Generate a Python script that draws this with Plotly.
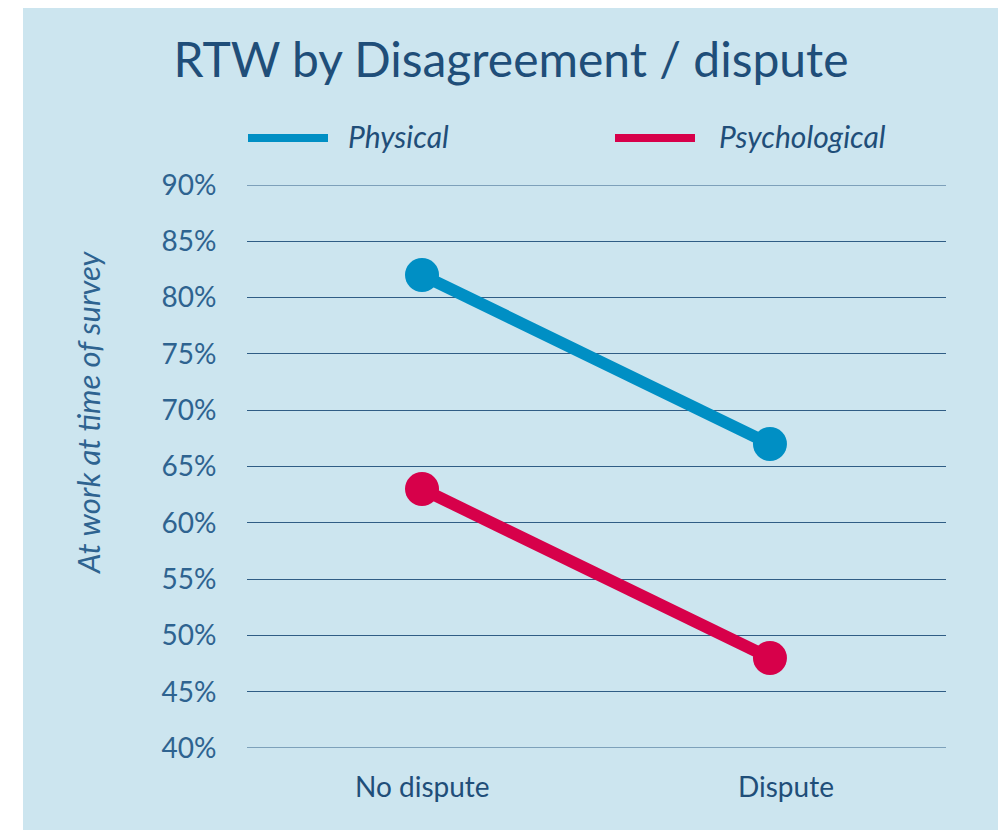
import plotly.graph_objects as go

categories = ["No dispute", "Dispute"]
physical = [0.82, 0.67]
psychological = [0.63, 0.48]
series_names = ["Physical", "Psychological"]
series_colors = ["#008fc4", "#d7004a"]
y_ticks = [0.40, 0.45, 0.50, 0.55, 0.60, 0.65, 0.70, 0.75, 0.80, 0.85, 0.90]

FONT = "Lato"
DARK = "#1f4e79"
TICK = "#2e6390"
GRID = "#2f5d85"

# page body has an 8px margin; work in page pixels and shift
OFF = 8
W, H = 1006 - OFF, 830 - OFF
L, R, T, B = 247 - OFF, 946 - OFF, 185 - OFF, 748 - OFF
PW, PH = R - L, B - T

def px(x):
    return (x - OFF - L) / PW

def py(y):
    return (B - (y - OFF)) / PH

fig = go.Figure()
for name, vals, col in zip(series_names, [physical, psychological], series_colors):
    fig.add_trace(go.Scatter(
        x=categories, y=vals, name=name, mode="lines+markers",
        line=dict(color=col, width=12),
        marker=dict(color=col, size=34),
        showlegend=False,
    ))

shapes = [dict(type="rect", xref="paper", yref="paper",
               x0=px(23), x1=px(999), y0=py(840), y1=py(5),
               fillcolor="#cce5ef", line=dict(width=0), layer="below")]
# edge gridlines (plotly omits them at the range boundaries)
for v in (y_ticks[0], y_ticks[-1]):
    shapes.append(dict(type="line", xref="paper", yref="y", x0=0, x1=1,
                       y0=v, y1=v, line=dict(color=GRID, width=1), layer="below"))

annotations = []
legend_pos = [(248, 328, 346), (615, 695, 717)]
for (x0, x1, tx), name, col in zip(legend_pos, series_names, series_colors):
    shapes.append(dict(type="line", xref="paper", yref="paper",
                       x0=px(x0), x1=px(x1), y0=py(138), y1=py(138),
                       line=dict(color=col, width=8)))
    annotations.append(dict(xref="paper", yref="paper", x=px(tx), y=py(136),
                            xanchor="left", yanchor="middle", showarrow=False,
                            text=f"<i>{name}</i>",
                            font=dict(family=FONT, size=30, color=DARK)))

# category labels (the right one sits a little right of its marker)
label_shift = [0, 16]
for cat, sh in zip(categories, label_shift):
    annotations.append(dict(xref="x", yref="paper", x=cat, y=py(786),
                            xshift=sh, xanchor="center", yanchor="middle",
                            showarrow=False, text=cat,
                            font=dict(family=FONT, size=28, color=DARK)))

# y-axis title
annotations.append(dict(xref="paper", yref="paper", x=px(88), y=py(412),
                        xanchor="center", yanchor="middle", textangle=-90,
                        showarrow=False, text="<i>At work at time of survey</i>",
                        font=dict(family=FONT, size=31, color=TICK)))

fig.update_layout(
    width=W, height=H,
    margin=dict(l=L, r=W - R, t=T, b=H - B, pad=0),
    paper_bgcolor="white", plot_bgcolor="rgba(0,0,0,0)",
    title=dict(text="RTW by Disagreement / dispute", x=px(511), xref="paper",
               xanchor="center", y=1 - (60 - OFF) / H, yanchor="middle",
               font=dict(family=FONT, size=48, color=DARK)),
    shapes=shapes, annotations=annotations,
    font=dict(family=FONT),
)
fig.update_xaxes(type="category", range=[-0.503, 1.506], showgrid=False,
                 showline=False, zeroline=False, showticklabels=False, ticks="")
fig.update_yaxes(range=[0.40, 0.90], tickvals=y_ticks, tickformat=".0%",
                 showgrid=True, gridcolor=GRID, gridwidth=1,
                 zeroline=False, showline=False, ticks="outside",
                 ticklen=24, tickcolor="rgba(0,0,0,0)",
                 tickfont=dict(family=FONT, size=28, color=TICK))

fig.write_html("out.html")
